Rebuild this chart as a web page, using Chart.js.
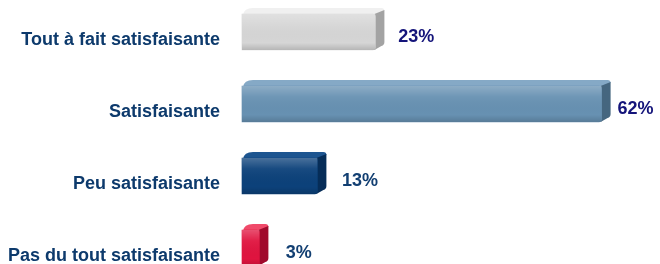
<!DOCTYPE html>
<html>
<head>
<meta charset="utf-8">
<script src="https://cdn.jsdelivr.net/npm/chart.js@4"></script>
<style>
  html, body { margin: 0; padding: 0; background: #fff; }
  #wrap { width: 660px; height: 264px; overflow: hidden; }
</style>
</head>
<body>
<div id="wrap"><canvas id="myChart" width="660" height="264"></canvas></div>
<script>
const categories = [
    "Tout à fait satisfaisante",
    "Satisfaisante",
    "Peu satisfaisante",
    "Pas du tout satisfaisante",
];
const values = [23, 62, 13, 3];
const valueLabels = ["23%", "62%", "13%", "3%"];

// couleurs des faces (avant, dessus, côté)
const frontColors = ["#d6d6d6", "#6791b2", "#0c417a", "#e0143f"];
const topColors = ["#f0f0f0", "#85a9c6", "#1d5590", "#f04a6a"];
const sideColors = ["#a3a3a3", "#45667f", "#062d58", "#a00a2c"];
const valueColors = ["#14147a", "#14147a", "#123f72", "#123f72"];

const dx = 9, dy = 6;

const bars3d = {
    id: "bars3d",
    beforeDatasetsDraw(chart) {
        const ctx = chart.ctx;
        chart.getDatasetMeta(0).data.forEach((el, i) => {
            const p = el.getProps(["x", "y", "base", "height"], true);
            const top = p.y - p.height / 2;
            const bottom = p.y + p.height / 2;
            ctx.save();
            // dessus
            ctx.beginPath();
            ctx.moveTo(p.base + 1, top + 1);
            ctx.quadraticCurveTo(p.base + 2, top - dy, p.base + dx + 2, top - dy);
            ctx.lineTo(p.x + dx - 3, top - dy);
            ctx.quadraticCurveTo(p.x + dx, top - dy, p.x + dx, top - dy + 3);
            ctx.lineTo(p.x, top + 1);
            ctx.closePath();
            ctx.fillStyle = topColors[i];
            ctx.fill();
            // côté
            ctx.beginPath();
            ctx.moveTo(p.x - 1, top);
            ctx.lineTo(p.x + dx, top - dy + 2);
            ctx.lineTo(p.x + dx, bottom - dy - 2);
            ctx.quadraticCurveTo(p.x + dx, bottom - dy + 1, p.x + dx - 3, bottom - dy + 2);
            ctx.lineTo(p.x - 1, bottom);
            ctx.closePath();
            ctx.fillStyle = sideColors[i];
            ctx.fill();
            ctx.restore();
        });
    },
    afterDatasetsDraw(chart) {
        const ctx = chart.ctx;
        chart.getDatasetMeta(0).data.forEach((el, i) => {
            const p = el.getProps(["x", "y", "base", "height"], true);
            const top = p.y - p.height / 2;
            const bottom = p.y + p.height / 2;
            ctx.save();
            const g = ctx.createLinearGradient(0, top, 0, bottom);
            g.addColorStop(0, "rgba(255,255,255,0.25)");
            g.addColorStop(0.3, "rgba(255,255,255,0.05)");
            g.addColorStop(0.8, "rgba(0,0,0,0)");
            g.addColorStop(1, "rgba(0,0,0,0.15)");
            ctx.fillStyle = g;
            ctx.fillRect(p.base, top, p.x - p.base, bottom - top);
            // étiquette de valeur
            const w = p.x - p.base;
            ctx.font = "bold 18px 'Liberation Sans', Arial, sans-serif";
            ctx.fillStyle = valueColors[i];
            ctx.textAlign = "left";
            ctx.textBaseline = "middle";
            ctx.fillText(valueLabels[i], p.x + 27 - w * 0.031, p.y + 5);
            ctx.restore();
        });
    },
};

const data = {
    labels: categories,
    datasets: [
        {
            data: values,
            backgroundColor: frontColors,
            borderWidth: 0,
            borderRadius: 3,
            barThickness: 36,
            clip: false,
        },
    ],
};

const config = {
    type: "bar",
    data: data,
    options: {
        indexAxis: "y",
        responsive: false,
        animation: false,
        layout: { padding: { top: 32, bottom: 16, left: 0, right: 12 } },
        plugins: { legend: { display: false }, tooltip: { enabled: false } },
        scales: {
            x: { display: false, min: 0, max: 70 },
            y: {
                offset: false,
                grid: { display: false, drawTicks: false },
                border: { display: false },
                ticks: {
                    padding: 22,
                    labelOffset: 8,
                    color: "#0d3a6c",
                    font: { family: "'Liberation Sans', Arial, sans-serif", size: 18, weight: "bold" },
                },
                afterFit(scale) {
                    scale.width = 242;
                    scale.paddingTop = 0;
                    scale.paddingBottom = 0;
                },
            },
        },
    },
    plugins: [bars3d],
};

const myChart = new Chart(document.getElementById("myChart"), config);
</script>
</body>
</html>
